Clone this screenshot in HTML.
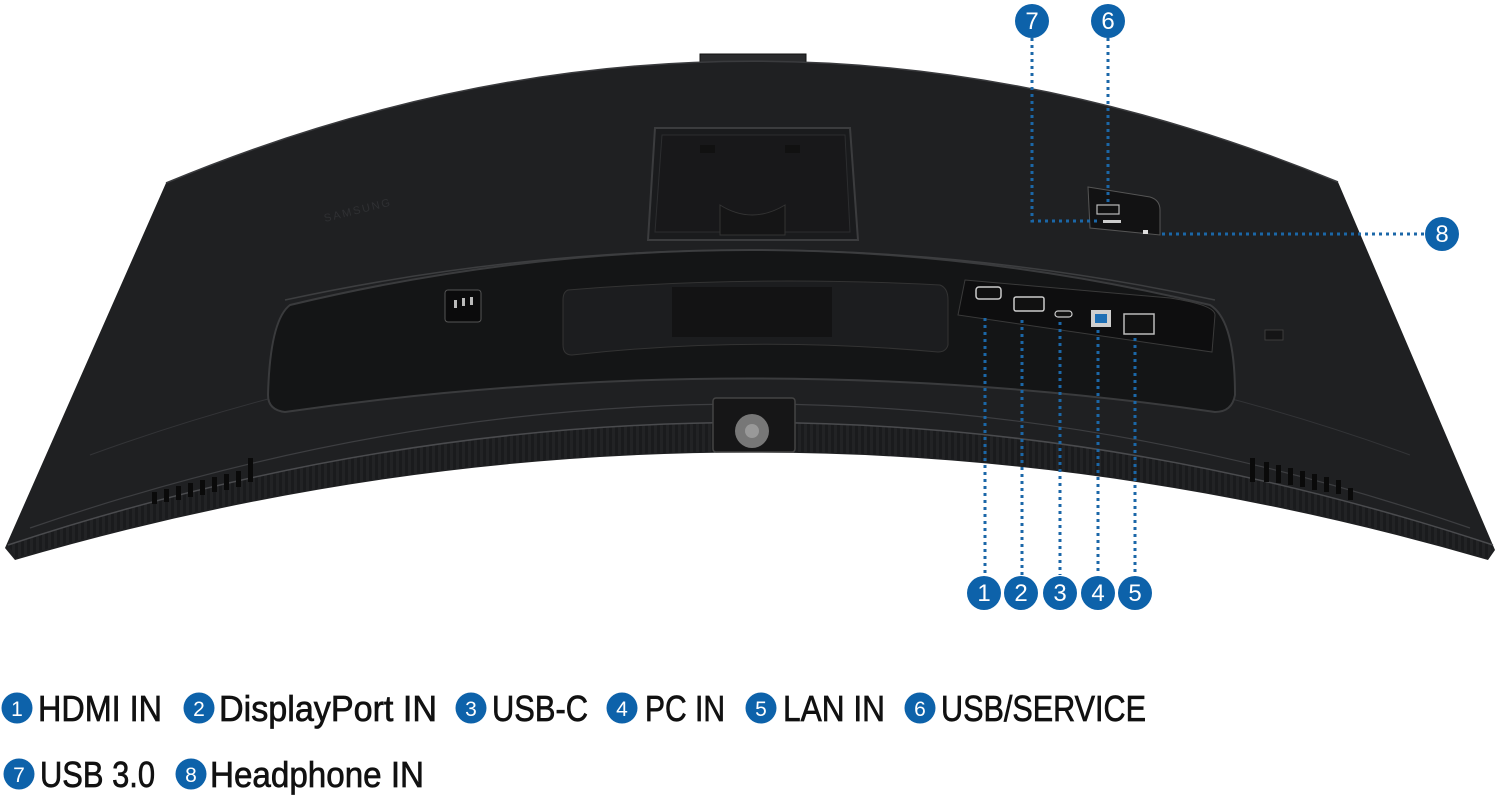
<!DOCTYPE html>
<html><head><meta charset="utf-8"><style>
html,body{margin:0;padding:0;background:#fff;}
svg{display:block;}
text{font-family:"Liberation Sans",sans-serif;}
</style></head><body>
<svg width="1500" height="796" viewBox="0 0 1500 796" xmlns="http://www.w3.org/2000/svg">
<defs>
<pattern id="ribs" width="6" height="6" patternUnits="userSpaceOnUse">
<rect width="6" height="6" fill="#1a1b1d"/><rect width="3" height="6" fill="#222325"/>
</pattern>
</defs>
<rect x="700" y="54" width="106" height="8" fill="#2a2b2d" stroke="#111" stroke-width="1"/>
<path d="M15,560 L5,548 L166,183 Q750,-60 1338,182 L1495,550 L1488,560 Q750,345 15,560 Z" fill="#1f2022"/>
<path d="M166,183 Q750,-60 1338,182" fill="none" stroke="#3a3b3e" stroke-width="1.5"/>
<path d="M15,555 L8,545 Q750,300 1493,545 L1488,558 Q750,345 15,558 Z" fill="url(#ribs)"/>
<path d="M8,545 Q750,300 1493,545" fill="none" stroke="#4a4b4e" stroke-width="1.5"/>
<path d="M30,528 Q750,280 1470,528" fill="none" stroke="#3d3e41" stroke-width="1.2"/>
<path d="M90,455 Q750,215 1410,455" fill="none" stroke="#333437" stroke-width="1"/>
<path d="M290,305 Q750,195 1210,305 Q1235,320 1235,395 Q1232,412 1215,412 Q750,345 285,412 Q268,410 268,395 Q270,320 290,305 Z" fill="#141516" stroke="#3a3b3d" stroke-width="2"/>
<path d="M285,300 Q750,200 1215,300" fill="none" stroke="#3d3e40" stroke-width="1.5"/>
<rect x="445" y="290" width="36" height="32" rx="3" fill="#0b0b0c" stroke="#555" stroke-width="1"/>
<rect x="454" y="300" width="3" height="8" fill="#bbb"/><rect x="462" y="298" width="3" height="8" fill="#bbb"/><rect x="470" y="297" width="3" height="8" fill="#bbb"/>
<path d="M568,290 Q750,275 940,285 Q948,288 948,300 L948,345 Q946,352 938,352 Q750,335 572,355 Q563,355 563,345 L563,300 Q563,292 568,290 Z" fill="#1c1d1f" stroke="#333" stroke-width="1"/>
<rect x="672" y="287" width="160" height="50" fill="#131314"/>
<path d="M965,280 L1170,298 Q1215,305 1215,315 L1212,352 L958,315 Z" fill="#0e0e0f" stroke="#3a3a3a" stroke-width="1"/>
<rect x="976" y="287" width="25" height="12" rx="3" fill="#111" stroke="#ccc" stroke-width="1.5"/>
<rect x="1014" y="297" width="30" height="14" rx="2" fill="#111" stroke="#ccc" stroke-width="1.5"/>
<rect x="1055" y="311" width="17" height="6" rx="3" fill="#111" stroke="#ccc" stroke-width="1.2"/>
<rect x="1091" y="310" width="20" height="17" fill="#cfcfcf"/><rect x="1095" y="314" width="12" height="9" fill="#1e6fb5"/>
<rect x="1124" y="314" width="30" height="20" fill="#111" stroke="#bbb" stroke-width="1.5"/>
<path d="M655,128 L850,128 L858,240 L648,240 Z" fill="#1a1b1d" stroke="#3b3c3e" stroke-width="2"/>
<path d="M662,135 L845,135 L850,232 L655,232 Z" fill="#18181a" stroke="#2c2d2f" stroke-width="1"/>
<path d="M720,205 Q752,225 785,205 L785,235 L720,235 Z" fill="#151516" stroke="#333" stroke-width="1"/>
<rect x="700" y="145" width="15" height="8" fill="#111"/><rect x="785" y="145" width="15" height="8" fill="#111"/>
<text x="325" y="222" font-size="11" fill="#2f3033" transform="rotate(-14 325 222)" letter-spacing="2">SAMSUNG</text>
<path d="M1088,187 L1150,197 Q1160,200 1160,210 L1160,235 L1090,228 Z" fill="#121213" stroke="#555" stroke-width="1"/>
<rect x="1097" y="205" width="22" height="9" fill="#111" stroke="#bbb" stroke-width="1.2"/>
<rect x="1103" y="220" width="18" height="3" fill="#ccc"/>
<rect x="1143" y="230" width="5" height="4" fill="#ddd"/>
<rect x="1265" y="330" width="18" height="10" fill="#151516" stroke="#444" stroke-width="0.8"/>
<rect x="713" y="398" width="82" height="54" rx="3" fill="#161617" stroke="#444" stroke-width="1.5"/>
<circle cx="752" cy="431" r="17" fill="#777"/>
<circle cx="752" cy="431" r="7" fill="#999"/>
<g fill="#0a0a0a">
<rect x="152" y="492" width="5" height="12"/><rect x="164" y="489" width="5" height="13"/><rect x="176" y="486" width="5" height="14"/><rect x="188" y="483" width="5" height="14"/><rect x="200" y="480" width="5" height="15"/><rect x="212" y="477" width="5" height="15"/><rect x="224" y="474" width="5" height="16"/><rect x="236" y="471" width="5" height="16"/><rect x="248" y="458" width="5" height="24"/>
<rect x="1250" y="458" width="5" height="24"/><rect x="1264" y="462" width="5" height="20"/><rect x="1276" y="465" width="5" height="18"/><rect x="1288" y="468" width="5" height="17"/><rect x="1300" y="471" width="5" height="16"/><rect x="1312" y="474" width="5" height="16"/><rect x="1324" y="477" width="5" height="15"/><rect x="1336" y="480" width="5" height="14"/><rect x="1348" y="488" width="5" height="12"/>
</g>
<g stroke="#1b67a8" stroke-width="3" stroke-dasharray="3,4" fill="none">
<path d="M985,318 L985,575"/>
<path d="M1022,320 L1022,575"/>
<path d="M1060,322 L1060,575"/>
<path d="M1098,330 L1098,575"/>
<path d="M1135,338 L1135,575"/>
<path d="M1032,38 L1032,221 L1100,221"/>
<path d="M1108,38 L1108,205"/>
<path d="M1162,234 L1425,234"/>
</g>
<g font-size="24" fill="#fff" text-anchor="middle" font-weight="500">
<circle cx="1032" cy="21" r="17" fill="#0d62aa"/><text x="1032" y="29">7</text>
<circle cx="1108" cy="21" r="17" fill="#0d62aa"/><text x="1108" y="29">6</text>
<circle cx="1442" cy="234" r="17" fill="#0d62aa"/><text x="1442" y="242">8</text>
<circle cx="984" cy="593" r="17" fill="#0d62aa"/><text x="984" y="601">1</text>
<circle cx="1021" cy="593" r="17" fill="#0d62aa"/><text x="1021" y="601">2</text>
<circle cx="1060" cy="593" r="17" fill="#0d62aa"/><text x="1060" y="601">3</text>
<circle cx="1098" cy="593" r="17" fill="#0d62aa"/><text x="1098" y="601">4</text>
<circle cx="1135" cy="593" r="17" fill="#0d62aa"/><text x="1135" y="601">5</text>
</g>
<g font-size="21" fill="#fff" text-anchor="middle">
<circle cx="17" cy="708" r="15.5" fill="#0d62aa"/><text x="17" y="716">1</text>
<circle cx="199" cy="708" r="15.5" fill="#0d62aa"/><text x="199" y="716">2</text>
<circle cx="471" cy="708" r="15.5" fill="#0d62aa"/><text x="471" y="716">3</text>
<circle cx="622" cy="708" r="15.5" fill="#0d62aa"/><text x="622" y="716">4</text>
<circle cx="761" cy="708" r="15.5" fill="#0d62aa"/><text x="761" y="716">5</text>
<circle cx="920" cy="708" r="15.5" fill="#0d62aa"/><text x="920" y="716">6</text>
<circle cx="19" cy="774" r="15.5" fill="#0d62aa"/><text x="19" y="782">7</text>
<circle cx="191" cy="774" r="15.5" fill="#0d62aa"/><text x="191" y="782">8</text>
</g>
<g font-size="36" fill="#111" stroke="#111" stroke-width="0.7">
<text x="38" y="721" textLength="124" lengthAdjust="spacingAndGlyphs">HDMI IN</text>
<text x="219" y="721" textLength="218" lengthAdjust="spacingAndGlyphs">DisplayPort IN</text>
<text x="492" y="721" textLength="96" lengthAdjust="spacingAndGlyphs">USB-C</text>
<text x="645" y="721" textLength="80" lengthAdjust="spacingAndGlyphs">PC IN</text>
<text x="783" y="721" textLength="102" lengthAdjust="spacingAndGlyphs">LAN IN</text>
<text x="941" y="721" textLength="205" lengthAdjust="spacingAndGlyphs">USB/SERVICE</text>
<text x="40" y="787" textLength="115" lengthAdjust="spacingAndGlyphs">USB 3.0</text>
<text x="210" y="787" textLength="214" lengthAdjust="spacingAndGlyphs">Headphone IN</text>
</g>
</svg>
</body></html>
